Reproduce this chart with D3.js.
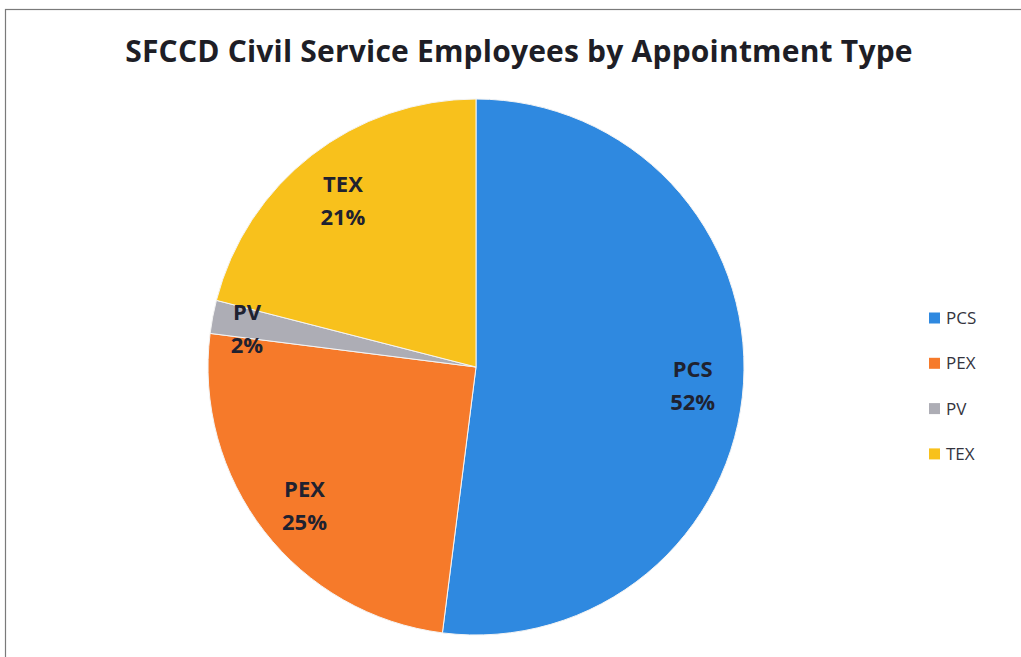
<!DOCTYPE html>
<meta charset="utf-8">
<script src="https://d3js.org/d3.v7.min.js"></script>
<style>
  body { margin: 0; background: #fff; }
</style>
<div id="chart"></div>
<script>
// data
var categories = ["PCS", "PEX", "PV", "TEX"];
var values = [52, 25, 2, 21];
var colors = ["#2f89e0", "#f67a2a", "#adadb5", "#f8c11c"];

var width = 1021, height = 657;
var cx = 476, cy = 367, radius = 268;

var svg = d3.select("#chart").append("svg")
    .attr("width", width)
    .attr("height", height);

// chart frame
svg.append("rect")
    .attr("x", 5.5).attr("y", 9.5)
    .attr("width", width + 10).attr("height", height + 10)
    .attr("fill", "none")
    .attr("stroke", "#7a7a7a")
    .attr("stroke-width", 1.2);

svg.append("text")
    .attr("x", 519).attr("y", 62)
    .attr("text-anchor", "middle")
    .style("font-family", "'Open Sans', 'Noto Sans', sans-serif")
    .style("font-weight", "bold")
    .style("font-size", "30px")
    .style("letter-spacing", "0.2px")
    .attr("fill", "#1e1e26")
    .text("SFCCD Civil Service Employees by Appointment Type");

var data = categories.map((c, i) => ({ name: c, value: values[i], color: colors[i] }));

var pie = d3.pie().sort(null).value(d => d.value);
var arc = d3.arc().innerRadius(0).outerRadius(radius);

var g = svg.append("g").attr("transform", "translate(" + cx + "," + cy + ")");

var arcs = pie(data);

g.selectAll("path")
    .data(arcs)
    .enter()
    .append("path")
    .attr("d", arc)
    .attr("fill", d => d.data.color)
    .attr("stroke", "#f4f4f4")
    .attr("stroke-width", 1);

// labels inside slices
var total = d3.sum(values);
var labelArc = d => {
    var r = d.data.value / total < 0.05 ? radius * 0.87 : radius * 0.81;
    return d3.arc().innerRadius(r).outerRadius(r).centroid(d);
};

var labels = g.selectAll(".lbl")
    .data(arcs)
    .enter()
    .append("text")
    .attr("class", "lbl")
    .attr("transform", d => "translate(" + labelArc(d) + ")")
    .attr("text-anchor", "middle")
    .style("font-family", "'Open Sans', 'Noto Sans', sans-serif")
    .style("font-weight", "bold")
    .style("font-size", "22px")
    .attr("fill", "#1f2230");

labels.append("tspan").attr("x", 0).attr("dy", "-0.15em").text(d => d.data.name);
labels.append("tspan").attr("x", 0).attr("dy", "1.5em").text(d => Math.round(d.data.value / total * 100) + "%");

// legend
var legend = svg.append("g").attr("transform", "translate(929,318)");
var item = legend.selectAll("g")
    .data(data)
    .enter()
    .append("g")
    .attr("transform", (d, i) => "translate(0," + (i * 45.3) + ")");

item.append("rect")
    .attr("x", 0).attr("y", -5.5)
    .attr("width", 11).attr("height", 11)
    .attr("fill", d => d.color);

item.append("text")
    .attr("x", 17).attr("y", 6)
    .style("font-family", "'Open Sans', 'Noto Sans', sans-serif")
    .style("font-size", "17px")
    .attr("fill", "#34343e")
    .text(d => d.name);
</script>
